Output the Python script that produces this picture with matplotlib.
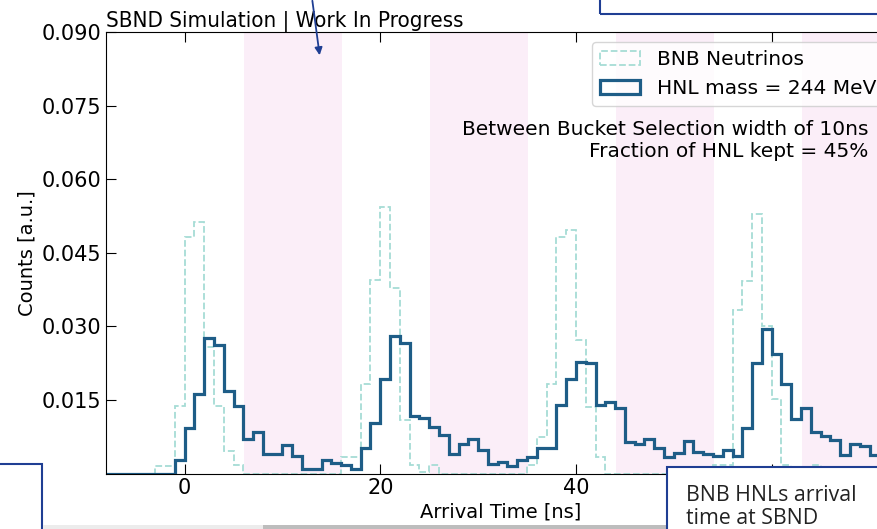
import numpy as np
import matplotlib
matplotlib.use('Agg')
import matplotlib.pyplot as plt
from matplotlib.patches import Rectangle, FancyArrowPatch

# 1 ns bins from -8 to 72 ns
bin_edges = np.arange(-8, 73)

# BNB neutrino arrival time (dashed)
bnb_counts = [
    0, 0, 0, 0, 0, 0.0016, 0.0016, 0.0137,                  # -8 .. -1
    0.0482, 0.0513, 0.0257, 0.0137, 0.0046, 0.0017, 0, 0,   # 0 .. 7
    0, 0, 0, 0, 0, 0, 0, 0,                                  # 8 .. 15
    0.0033, 0.0033, 0.0182, 0.0394, 0.0543, 0.0379, 0.0109, 0.0017,  # 16 .. 23
    0.0003, 0.0017, 0, 0, 0, 0, 0, 0,                        # 24 .. 31
    0, 0, 0, 0.0017, 0.0075, 0.0182, 0.0482, 0.0497,         # 32 .. 39
    0.0273, 0.0136, 0.0033, 0, 0, 0, 0, 0,                   # 40 .. 47
    0, 0, 0, 0, 0, 0, 0.0017, 0.0017,                        # 48 .. 55
    0.0333, 0.0392, 0.0529, 0.0300, 0.0151, 0.0017, 0, 0,    # 56 .. 63
    0.0017, 0, 0, 0, 0, 0, 0, 0,                             # 64 .. 71
]

# HNL 244 MeV arrival time (solid)
hnl_counts = [
    0, 0, 0, 0, 0, 0, 0, 0.0028,                             # -8 .. -1
    0.0092, 0.0163, 0.0276, 0.0262, 0.0168, 0.0137, 0.0070, 0.0085,  # 0 .. 7
    0.0040, 0.0040, 0.0058, 0.0035, 0.0009, 0.0009, 0.0028, 0.0021,  # 8 .. 15
    0.0017, 0.0010, 0.0053, 0.0103, 0.0192, 0.0280, 0.0267, 0.0118,  # 16 .. 23
    0.0113, 0.0094, 0.0079, 0.0039, 0.0061, 0.0070, 0.0048, 0.0019,  # 24 .. 31
    0.0024, 0.0016, 0.0027, 0.0034, 0.0052, 0.0052, 0.0140, 0.0192,  # 32 .. 39
    0.0228, 0.0225, 0.0140, 0.0145, 0.0133, 0.0065, 0.0060, 0.0070,  # 40 .. 47
    0.0052, 0.0034, 0.0042, 0.0066, 0.0043, 0.0039, 0.0035, 0.0048,  # 48 .. 55
    0.0035, 0.0093, 0.0225, 0.0294, 0.0244, 0.0183, 0.0112, 0.0133,  # 56 .. 63
    0.0084, 0.0076, 0.0069, 0.0038, 0.0061, 0.0057, 0.0038, 0.0040,  # 64 .. 71
]

# between-bucket selection windows (10 ns wide)
window_starts = [6.1, 25.1, 44.1, 63.1]
window_width = 10

y_ticks = [0.015, 0.030, 0.045, 0.060, 0.075, 0.090]
x_ticks = [0, 20, 40, 60]

plt.rcParams['font.family'] = ['DejaVu Sans']
plt.rcParams['font.size'] = 14

W, H = 877, 529
fig = plt.figure(figsize=(W / 100, H / 100), dpi=100)

def fx(x):
    return x / W

def fy(y):
    return 1 - y / H

ax_left, ax_right, ax_top, ax_bottom = 106.3, 894.0, 32.0, 473.5
ax = fig.add_axes([fx(ax_left), fy(ax_bottom), (ax_right - ax_left) / W, (ax_bottom - ax_top) / H])

for s in window_starts:
    ax.axvspan(s, s + window_width, color='#fbeef8', lw=0, zorder=0)

centers = bin_edges[:-1] + 0.5
ax.hist(centers, bins=bin_edges, weights=bnb_counts, histtype='step',
        ls='--', lw=1.3, color='#a6dcd5', label='BNB Neutrinos')
ax.hist(centers, bins=bin_edges, weights=hnl_counts, histtype='step',
        lw=2.3, color='#1e5d87', label='HNL mass = 244 MeV')

ax.set_xlim(-8, 72.5)
ax.set_ylim(0, 0.090)
ax.set_xticks(x_ticks)
ax.set_yticks(y_ticks)
ax.tick_params(direction='in', top=True, right=True, length=7, labelsize=15)
ax.set_xlabel('Arrival Time [ns]', labelpad=3)
ax.set_ylabel('Counts [a.u.]')
ax.set_title('SBND Simulation | Work In Progress', loc='left', pad=4,
             fontsize=16, fontstretch='condensed')
# the 60 label sits under the slide text box
ax.get_xticklabels()[-1].set_visible(False)

ax.legend(loc='upper right', fontsize=14.5)
ax.text(0.967, 0.80, 'Between Bucket Selection width of 10ns\nFraction of HNL kept = 45%',
        transform=ax.transAxes, ha='right', va='top', multialignment='right', fontsize=14.5)

# slide overlays around the plot
navy = '#1f3e93'
fig.add_artist(FancyArrowPatch((fx(312), fy(-2)), (fx(320), fy(58)), transform=fig.transFigure,
                               arrowstyle='-|>', mutation_scale=11, lw=1.3, color=navy))
fig.add_artist(Rectangle((fx(600), fy(14)), 0.6, 0.1, transform=fig.transFigure,
                         fill=False, ec=navy, lw=1.5))
fig.add_artist(Rectangle((fx(-20), fy(560)), fx(62), (560 - 464) / H, transform=fig.transFigure,
                         fill=False, ec=navy, lw=1.5))
fig.add_artist(Rectangle((fx(43), 0), fx(263 - 43), 4 / H, transform=fig.transFigure,
                         color='#ececec', lw=0))
fig.add_artist(Rectangle((fx(263), 0), fx(667 - 263), 4 / H, transform=fig.transFigure,
                         color='#bdbdbd', lw=0))
fig.add_artist(Rectangle((fx(667), fy(560)), 0.4, (560 - 467) / H, transform=fig.transFigure,
                         fc='white', ec=navy, lw=1.5, zorder=5))
fig.text(fx(686), fy(485), 'BNB HNLs arrival\ntime at SBND', family=['Open Sans', 'DejaVu Sans'],
         fontsize=15.3, va='top', ha='left', linespacing=1.12, color='#222222', zorder=6)

fig.savefig('out.png', dpi=100)
